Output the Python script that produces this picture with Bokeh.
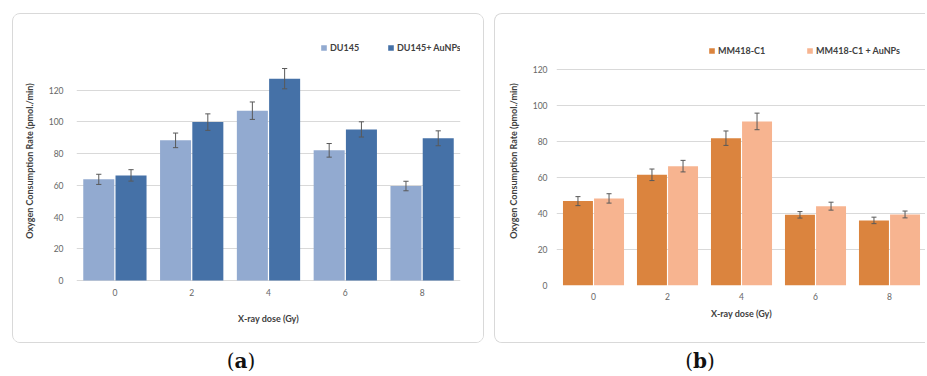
from bokeh.plotting import figure
from bokeh.models import (ColumnDataSource, FactorRange, Range1d, FixedTicker,
                          Legend, LegendItem, Div)
from bokeh.transform import dodge
from bokeh.layouts import row, column
from bokeh.embed import file_html
from bokeh.resources import INLINE

# X-ray doses (Gy)
doses = ["0", "2", "4", "6", "8"]

# Oxygen consumption rate (pmol./min), mean and error
du145 = [63.8, 88.4, 107.1, 82.1, 59.6]
du145_err = [3.2, 4.6, 5.5, 4.3, 3.0]
du145_au = [66.3, 99.9, 127.3, 95.3, 89.7]
du145_au_err = [3.6, 5.2, 6.4, 4.8, 4.7]

mm418 = [46.8, 61.4, 81.7, 39.2, 36.1]
mm418_err = [2.5, 3.2, 4.0, 1.8, 1.8]
mm418_au = [48.3, 66.2, 91.0, 44.0, 39.4]
mm418_au_err = [2.6, 3.2, 4.6, 2.2, 1.9]

y_ticks = [0, 20, 40, 60, 80, 100, 120]

FONT = "Lato"
GRID = "#d9d9d9"
TICK_TXT = "#666666"
TITLE_TXT = "#404040"
ERR = "#595959"


def make_panel(width, b_left, b_right, y_start, y_end, series, bar_w, off,
               legend_loc, label_width, x_lab_sd, x_title_sd, y_lab_sd,
               y_title_sd, box_styles, margin):
    p = figure(width=width, height=330, x_range=FactorRange(factors=doses),
               y_range=Range1d(y_start, y_end), output_backend="svg",
               toolbar_location=None, title=None,
               min_border_left=b_left, min_border_right=b_right,
               min_border_top=22, min_border_bottom=59,
               styles=box_styles, margin=margin)
    p.outline_line_color = None
    p.background_fill_color = "white"
    p.border_fill_color = "white"

    items = []
    for i, (name, vals, errs, color) in enumerate(series):
        shift = -off if i == 0 else off
        src = ColumnDataSource(dict(
            dose=doses, val=vals,
            lo=[v - e for v, e in zip(vals, errs)],
            hi=[v + e for v, e in zip(vals, errs)]))
        r = p.vbar(x=dodge("dose", shift, range=p.x_range), top="val",
                   bottom=0, width=bar_w, source=src, fill_color=color,
                   line_color=None)
        items.append(LegendItem(label=name, renderers=[r]))
        # error bars: stem and caps
        p.segment(x0=dodge("dose", shift, range=p.x_range), y0="lo",
                  x1=dodge("dose", shift, range=p.x_range), y1="hi",
                  source=src, line_color=ERR, line_width=1)
        cap = 0.034
        for col in ("lo", "hi"):
            p.segment(x0=dodge("dose", shift - cap, range=p.x_range), y0=col,
                      x1=dodge("dose", shift + cap, range=p.x_range), y1=col,
                      source=src, line_color=ERR, line_width=1)

    legend = Legend(items=items, orientation="horizontal", location=legend_loc,
                    padding=0, margin=0, spacing=0, glyph_width=7,
                    glyph_height=7, label_standoff=3,
                    label_width=label_width, label_height=12,
                    label_text_font=FONT, label_text_font_style="bold",
                    label_text_font_size="9px", label_text_color=TITLE_TXT,
                    border_line_color=None, background_fill_alpha=0)
    p.add_layout(legend)

    p.xgrid.grid_line_color = None
    p.ygrid.grid_line_color = GRID
    p.ygrid.ticker = FixedTicker(ticks=y_ticks)

    p.yaxis.ticker = FixedTicker(ticks=y_ticks)
    p.yaxis.axis_label = "Oxygen Consumption Rate (pmol./min)"
    p.xaxis.axis_label = "X-ray dose (Gy)"
    for ax in (p.xaxis[0], p.yaxis[0]):
        ax.axis_line_color = None
        ax.major_tick_line_color = None
        ax.minor_tick_line_color = None
        ax.major_tick_out = 0
        ax.major_tick_in = 0
        ax.minor_tick_out = 0
        ax.major_label_text_font = FONT
        ax.major_label_text_font_size = "8.5px"
        ax.major_label_text_color = TICK_TXT
        ax.axis_label_text_font = FONT
        ax.axis_label_text_font_style = "bold"
        ax.axis_label_text_font_size = "9px"
        ax.axis_label_text_color = TITLE_TXT
    p.xaxis.major_label_standoff = x_lab_sd
    p.xaxis.axis_label_standoff = x_title_sd
    p.yaxis.major_label_standoff = y_lab_sd
    p.yaxis.axis_label_standoff = y_title_sd
    return p


def tag(letter, left):
    return Div(text=f"(<b>{letter}</b>)", width=60, height=28,
               margin=(5, 0, 0, left),
               styles={"font-family": "DejaVu Serif", "font-size": "20px",
                       "color": "#111111", "text-align": "center",
                       "line-height": "26px"})


LINE = "1px solid #d9d9d9"

pa = make_panel(
    472, 63, 25, -3.15, 153.9,
    [("DU145", du145, du145_err, "#92aad0"),
     ("DU145+ AuNPs", du145_au, du145_au_err, "#4571a7")],
    0.404, 0.21, (244, 232), 57, 3, 14, 13, 11,
    {"border-top": LINE, "border-bottom": LINE, "border-left": LINE,
     "border-right": LINE, "border-radius": "8px", "overflow": "hidden"},
    (13, 10, 0, 12))

pb = make_panel(
    431, 61, 0, 0, 138.1,
    [("MM418-C1", mm418, mm418_err, "#db843e"),
     ("MM418-C1 + AuNPs", mm418_au, mm418_au_err, "#f7b490")],
    0.405, 0.21, (152, 229), 88, 7, 5, 9, 11,
    {"border-top": LINE, "border-bottom": LINE, "border-left": LINE,
     "border-radius": "8px 0 0 8px", "overflow": "hidden"},
    (13, 0, 0, 0))

layout = row(column(pa, tag("a", 211)), column(pb, tag("b", 176)))
open("out.html", "w").write(file_html(layout, INLINE))
